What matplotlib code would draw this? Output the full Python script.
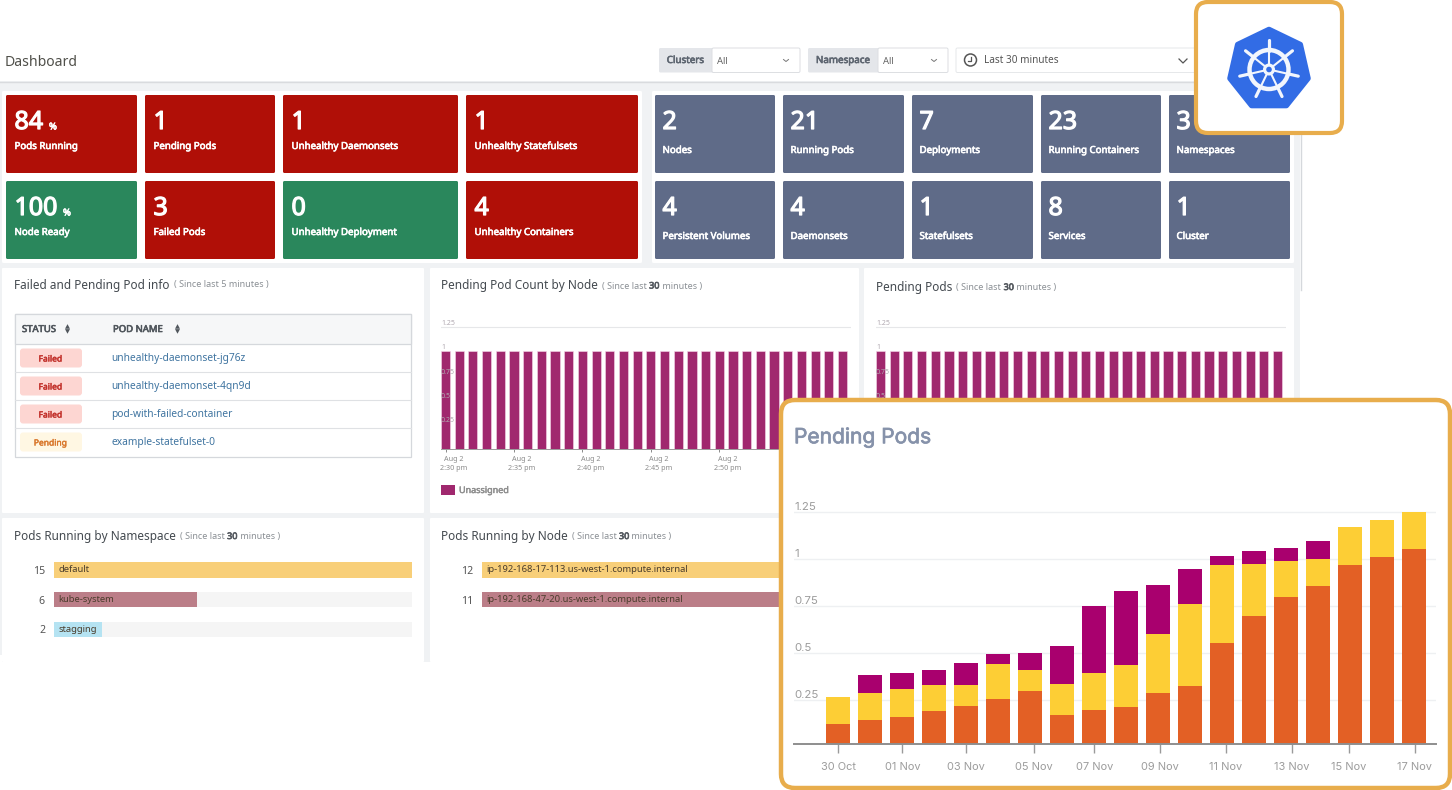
import numpy as np
import matplotlib
matplotlib.use("Agg")
import matplotlib.pyplot as plt
import matplotlib.patheffects as pe
from matplotlib.patches import FancyBboxPatch, Rectangle, Circle, Polygon
from matplotlib.transforms import ScaledTranslation

W, H = 1452, 790
plt.rcParams['font.family'] = ['Noto Sans', 'DejaVu Sans']

# big card data
days = ['30 Oct', '01 Nov', '03 Nov', '05 Nov', '07 Nov', '09 Nov', '11 Nov', '13 Nov', '15 Nov', '17 Nov']
day_ticks = [0, 2, 4, 6.11, 8, 10.05, 12.11, 14.18, 15.96, 18.02]
orange_vals = [0.122, 0.143, 0.158, 0.190, 0.218, 0.257, 0.296, 0.168, 0.195, 0.214,
               0.289, 0.324, 0.551, 0.697, 0.796, 0.856, 0.968, 1.009, 1.054]
yellow_vals = [0.145, 0.146, 0.149, 0.138, 0.110, 0.187, 0.115, 0.169, 0.199, 0.220,
               0.312, 0.434, 0.416, 0.279, 0.192, 0.142, 0.202, 0.196, 0.197]
purple_vals = [0, 0.094, 0.088, 0.083, 0.117, 0.051, 0.091, 0.198, 0.356, 0.394,
               0.261, 0.191, 0.049, 0.064, 0.071, 0.096, 0, 0, 0]
y_ticks = [0.25, 0.5, 0.75, 1, 1.25]
y_labels = ['0.25', '0.5', '0.75', '1', '1.25']

# small bar charts
pending_counts = [1, 1, 1, 1, 1, 1, 1, 1, 1, 1, 1, 1, 1, 1, 1,
                  1, 1, 1, 1, 1, 1, 1, 1, 1, 1, 1, 1, 1, 1, 1]
pending_times = ['2:30 pm', '2:35 pm', '2:40 pm', '2:45 pm', '2:50 pm', '2:55 pm']
namespaces = ['default', 'kube-system', 'stagging']
namespace_vals = [15, 6, 2]
nodes = ['ip-192-168-17-113.us-west-1.compute.internal', 'ip-192-168-47-20.us-west-1.compute.internal']
node_vals = [12, 11]

# stat tiles
red, green, slate = '#b00f07', '#2a875c', '#5f6b88'
left_tiles = [('84', '%', 'Pods Running', red), ('1', '', 'Pending Pods', red),
              ('1', '', 'Unhealthy Daemonsets', red), ('1', '', 'Unhealthy Statefulsets', red),
              ('100', '%', 'Node Ready', green), ('3', '', 'Failed Pods', red),
              ('0', '', 'Unhealthy Deployment', green), ('4', '', 'Unhealthy Containers', red)]
right_tiles = [('2', 'Nodes'), ('21', 'Running Pods'), ('7', 'Deployments'), ('23', 'Running Containers'),
               ('3', 'Namespaces'), ('4', 'Persistent Volumes'), ('4', 'Daemonsets'), ('1', 'Statefulsets'),
               ('8', 'Services'), ('1', 'Cluster')]
pod_status = ['Failed', 'Failed', 'Failed', 'Pending']
pod_names = ['unhealthy-daemonset-jg76z', 'unhealthy-daemonset-4qn9d', 'pod-with-failed-container', 'example-statefulset-0']

fig = plt.figure(figsize=(W / 100, H / 100), dpi=100, facecolor='white')


def pts(px):
    return px * 0.72


def heavy(t, color, w=0.45):
    # the regular weight looks too thin next to the reference, thicken it a bit
    t.set_path_effects([pe.withStroke(linewidth=w, foreground=color)])
    return t


def canvas(z):
    a = fig.add_axes([0, 0, 1, 1], zorder=z)
    a.set_xlim(0, W)
    a.set_ylim(H, 0)
    a.axis('off')
    a.patch.set_alpha(0)
    return a


def px_axes(x0, y0, x1, y1, z):
    a = fig.add_axes([x0 / W, 1 - y1 / H, (x1 - x0) / W, (y1 - y0) / H], zorder=z)
    a.patch.set_alpha(0)
    return a


def box(a, x0, y0, x1, y1, color, r=1.5, ec='none', lw=0, z=1):
    a.add_patch(FancyBboxPatch((x0 + r, y0 + r), x1 - x0 - 2 * r, y1 - y0 - 2 * r,
                               boxstyle='round,pad=%f,rounding_size=%f' % (r, r),
                               fc=color, ec=ec, lw=lw, zorder=z))


def title_line(a, x, y, title, bold_part=None, since='5 minutes'):
    # title, then the grey "Since last" note glued on after it
    t = a.text(x, y, title, fontsize=pts(11.8), color='#444a50', va='center')
    rend = fig.canvas.get_renderer()
    inv = a.transData.inverted()
    nx = inv.transform(t.get_window_extent(rend).get_points())[1, 0] + 4
    if bold_part is None:
        a.text(nx, y, '( Since last ' + since + ' )', fontsize=pts(9), color='#8a8f94', va='center')
        return
    for piece, c in [('( Since last ', '#8a8f94'), (bold_part, '#555a60'), (' minutes )', '#8a8f94')]:
        t = a.text(nx, y, piece.replace(' ', '\u00a0'), fontsize=pts(9), color=c, va='center')
        if piece == bold_part:
            heavy(t, c, 0.5)
        nx = inv.transform(t.get_window_extent(rend).get_points())[1, 0]


base = canvas(0)
base.add_patch(Rectangle((0, 81), 1300, 581, fc='#f0f2f4', ec='none', zorder=0))
base.plot([0, 1300], [81.5, 81.5], color='#d9dbde', lw=1, zorder=1)
base.plot([1300.5, 1300.5], [81, 290], color='#d5d8dc', lw=1, zorder=1)
base.text(5, 62.5, 'Dashboard', fontsize=pts(14), color='#50504a', va='center')

# filter bar
for x0, x1, x2, name in [(659, 712, 800, 'Clusters'), (808, 878, 948, 'Namespace')]:
    box(base, x0, 48, x1 + 3, 72.5, '#e4e6ea')
    box(base, x1, 48, x2, 72.5, 'white', ec='#dcdee2', lw=0.7)
    heavy(base.text((x0 + x1) / 2, 60.5, name, fontsize=pts(9.8), color='#5d6570', ha='center', va='center'), '#5d6570')
    base.text(x1 + 5, 61, 'All', fontsize=pts(9.5), color='#666', va='center')
    base.plot([x2 - 16.5, x2 - 14, x2 - 11.5], [59.5, 61.5, 59.5], color='#777', lw=0.7)
box(base, 956, 48, 1240, 72.5, 'white', ec='#e6e8ea', lw=0.7)
base.add_patch(Circle((970.5, 60), 6, fc='white', ec='#555', lw=1.1, zorder=2))
base.plot([970.5, 970.5, 967.5], [56.5, 60.5, 60.5], color='#555', lw=0.9, zorder=3)
base.text(984, 60.5, 'Last 30 minutes', fontsize=pts(10), color='#555', va='center')
base.plot([1179, 1183, 1187], [59, 63, 59], color='#555', lw=0.9)

# stat tiles
box(base, 2, 91, 642, 263, 'white', z=1)
box(base, 652, 91, 1294, 263, 'white', z=1)
left_x = [(6, 137), (145, 275), (283, 458), (466, 638)]
right_x = [(655, 775), (783, 904), (912, 1033), (1041, 1161), (1169, 1290)]
rows = [(95, 173), (181, 259)]
for i, (num, unit, label, col) in enumerate(left_tiles):
    x0, x1 = left_x[i % 4]
    y0, y1 = rows[i // 4]
    box(base, x0, y0, x1, y1, col, z=2)
    heavy(base.text(x0 + 8.5, y0 + 27.5, num, fontsize=pts(25), color='white', va='center', zorder=3), 'white', 0.9)
    if unit:
        heavy(base.text(x0 + 15 + 14 * len(num), y0 + 32, unit, fontsize=pts(9.5), color='white', va='center', zorder=3), 'white')
    heavy(base.text(x0 + 8.5, y0 + 51.5, label, fontsize=pts(9.7), color='white', va='center', zorder=3), 'white')
for i, (num, label) in enumerate(right_tiles):
    x0, x1 = right_x[i % 5]
    y0, y1 = rows[i // 5]
    box(base, x0, y0, x1, y1, slate, z=2)
    heavy(base.text(x0 + 7.5, y0 + 27.5, num, fontsize=pts(25), color='white', va='center', zorder=3), 'white', 0.9)
    heavy(base.text(x0 + 7.5, y0 + 55.5, label, fontsize=pts(9.7), color='white', va='center', zorder=3), 'white')

# panels
for x0, y0, x1, y1 in [(2, 268, 424, 513), (430, 268, 859, 513), (864, 268, 1294, 513),
                       (2, 518, 424, 662), (430, 518, 859, 662), (864, 518, 1294, 662)]:
    box(base, x0, y0, x1, y1, 'white', r=1, z=1)
base.add_patch(Rectangle((0, 655), 2, 8, fc='white', ec='none', zorder=2))

fig.canvas.draw()
title_line(base, 14, 285, 'Failed and Pending Pod info')
title_line(base, 441, 286, 'Pending Pod Count by Node', '30')
title_line(base, 876, 287.5, 'Pending Pods', '30')
title_line(base, 14, 536.5, 'Pods Running by Namespace', '30')
title_line(base, 441, 536.5, 'Pods Running by Node', '30')

# pod table
base.add_patch(Rectangle((15, 314), 396, 142.5, fc='white', ec='#d5d8dc', lw=0.9, zorder=2))
base.add_patch(Rectangle((15, 314), 396, 30, fc='#f6f7f8', ec='#d5d8dc', lw=0.9, zorder=2))
heavy(base.text(22, 329.5, 'STATUS', fontsize=pts(9.5), color='#50565c', va='center', zorder=3), '#50565c')
heavy(base.text(113, 329.5, 'POD NAME', fontsize=pts(9.5), color='#50565c', va='center', zorder=3), '#50565c')
for ax_x in (67.5, 177.5):
    base.text(ax_x, 327, '\u25b2', fontsize=pts(6.5), color='#50565c', ha='center', va='center', zorder=3)
    base.text(ax_x, 331.5, '\u25bc', fontsize=pts(6.5), color='#50565c', ha='center', va='center', zorder=3)
for i, (st, name) in enumerate(zip(pod_status, pod_names)):
    yc = 358 + 28 * i
    if i:
        base.plot([15, 411], [yc - 14, yc - 14], color='#dfe1e4', lw=0.8, zorder=3)
    failed = st == 'Failed'
    box(base, 20, yc - 9.5, 82, yc + 9.5, '#fdd6d2' if failed else '#fff7e3', r=3, z=3)
    c = '#c2302a' if failed else '#d9772b'
    heavy(base.text(50.5, yc + 1, st, fontsize=pts(8.5), color=c, ha='center', va='center', zorder=4), c, 0.3)
    base.text(111, yc + 1, name, fontsize=pts(10.2), color='#3f74a0', va='center', zorder=4)


def pending_chart(x0, x1, tick_x0):
    a = px_axes(x0, 322, x1, 449, 1)
    step = 13.69
    a.bar(np.arange(len(pending_counts)), pending_counts, width=0.67, color='#a0286e', ec='#f5d8ea', lw=0.4)
    a.set_xlim((x0 - tick_x0) / step, (x1 - tick_x0) / step)
    a.set_ylim(0, 127 / 98)
    a.axhline(1.25, color='#e6e7e9', lw=0.8, zorder=0)
    a.set_yticks(y_ticks, y_labels)
    a.tick_params(axis='y', length=0, pad=0, labelsize=pts(7), labelcolor='#b0a8b0')
    for lab in a.get_yticklabels():
        lab.set_ha('left')
        lab.set_va('bottom')
    a.set_xticks(range(0, 30, 5), ['Aug 2\n' + s for s in pending_times])
    a.tick_params(axis='x', length=2, width=0.6, color='#777', pad=3, labelsize=pts(7.2), labelcolor='#8c8c8c')
    shift = ScaledTranslation(8 / 100, 0, fig.dpi_scale_trans)
    for lab in a.get_xticklabels():
        lab.set_transform(lab.get_transform() + shift)
        lab.set_linespacing(1.35)
    for s in ['top', 'left', 'right']:
        a.spines[s].set_visible(False)
    a.spines['bottom'].set_color('#9a9a9a')
    a.spines['bottom'].set_linewidth(0.7)
    return a


pending_chart(441, 851, 445.5)
pending_chart(876, 1286, 880.5)
base.add_patch(Rectangle((441, 485), 14, 9.5, fc='#a0286e', ec='none', zorder=2))
heavy(base.text(459, 490.5, 'Unassigned', fontsize=pts(9), color='#8f8f8f', va='center', zorder=2), '#8f8f8f', 0.35)

row_colors = ['#f8cf79', '#bb7e88', '#b5e3f2']


def running_chart(x0, x1, names, vals):
    # one row per entry, a grey track under each bar
    a = px_axes(x0, 555, x1, 645, 1)
    pos = np.arange(len(vals))
    a.barh(pos, [max(vals)] * len(vals), height=0.52, color='#f5f5f5')
    a.barh(pos, vals, height=0.52, color=row_colors[:len(vals)])
    a.set_xlim(0, max(vals))
    a.set_ylim(2.521, -0.504)
    a.set_yticks(pos, [str(v) for v in vals])
    a.tick_params(axis='y', length=0, pad=6.5, labelsize=pts(10.5), labelcolor='#555')
    a.set_xticks([])
    for s in a.spines.values():
        s.set_visible(False)
    for p, n in zip(pos, names):
        a.annotate(n, (0, p), xytext=(3, 0), textcoords='offset points', fontsize=pts(9.4), color='#4a3d2c', va='center')


running_chart(54, 412, namespaces, namespace_vals)
running_chart(482, 840, nodes, node_vals)

# highlighted cards on top
top = canvas(2)
gold = '#e8ad4c'
box(top, 781, 400, 1450, 788, 'white', r=14, ec=gold, lw=3.2, z=1)
box(top, 1196, 2, 1342, 133, 'white', r=12, ec=gold, lw=3, z=1)
heavy(top.text(794, 437, 'Pending Pods', fontfamily='Inter', fontsize=pts(21), color='#8692aa', va='center', zorder=2), '#8692aa', 0.5)

# kubernetes logo
cx, cy = 1269, 69.5
blue = '#326ce5'
ang = np.radians(-90 + np.arange(7) * 360 / 7)
top.add_patch(Polygon(np.c_[cx + 40 * np.cos(ang), cy + 40 * np.sin(ang)], fc=blue, ec=blue, lw=4, joinstyle='round', zorder=2))
top.add_patch(Circle((cx, cy), 19.5, fc='none', ec='#f2f6fd', lw=3.2, zorder=3))
for t in ang:
    top.plot([cx + 4 * np.cos(t), cx + 19 * np.cos(t)], [cy + 4 * np.sin(t), cy + 19 * np.sin(t)],
             color='#f2f6fd', lw=1.5, zorder=3)
    top.plot([cx + 19 * np.cos(t), cx + 30 * np.cos(t)], [cy + 19 * np.sin(t), cy + 30 * np.sin(t)],
             color='#f2f6fd', lw=2.3, solid_capstyle='round', zorder=3)
top.add_patch(Circle((cx, cy), 6, fc='#f2f6fd', ec='none', zorder=4))
top.add_patch(Circle((cx, cy), 2.8, fc=blue, ec='none', zorder=5))

# main stacked bars
ax = px_axes(794, 500, 1436, 744, 3)
xs = np.arange(len(orange_vals))
orange = np.array(orange_vals)
yellow = np.array(yellow_vals)
purple = np.array(purple_vals)
ax.bar(xs, orange, width=0.75, color='#e36025')
ax.bar(xs, yellow, width=0.75, bottom=orange, color='#fdce35')
ax.bar(xs, purple, width=0.75, bottom=orange + yellow, color='#a9006e')
ax.set_xlim(-1.384, 18.68)
# grid is 188 px per unit, and the base line sits a little above zero
ax.set_ylim(3 / 188, 247 / 188)
ax.set_axisbelow(True)
ax.yaxis.grid(True, color='#eef0f2', lw=1)
ax.set_yticks(y_ticks, y_labels)
ax.tick_params(axis='y', length=0, pad=0, labelsize=pts(11.5), labelcolor='#9c9c9c')
for lab in ax.get_yticklabels():
    lab.set_ha('left')
    lab.set_va('bottom')
    lab.set_family('Inter')
ax.set_xticks(day_ticks, days)
ax.tick_params(axis='x', length=6.5, width=1, color='#9a9a9a', pad=6.5, labelsize=pts(11), labelcolor='#9c9c9c')
for lab in ax.get_xticklabels():
    lab.set_family('Inter')
for s in ['top', 'left', 'right']:
    ax.spines[s].set_visible(False)
ax.spines['bottom'].set_color('#8e8e8e')
ax.spines['bottom'].set_linewidth(1.4)

fig.savefig('out.png', dpi=100)
